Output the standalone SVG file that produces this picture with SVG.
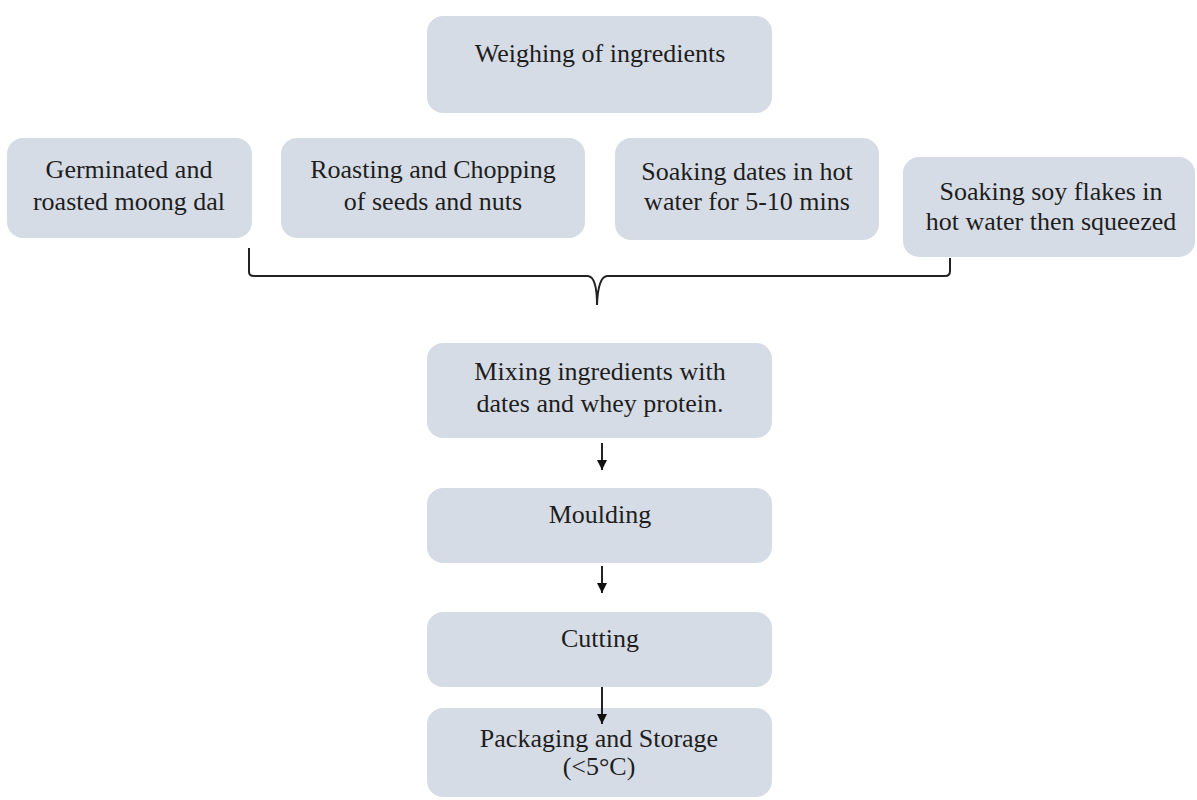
<svg xmlns="http://www.w3.org/2000/svg" width="1197" height="800" viewBox="0 0 1197 800">
<style>
.box{fill:#d6dce5;}
.t{font-family:"Liberation Serif","Times New Roman",serif;font-size:26px;fill:#1e1e1e;text-anchor:middle;}
.c{fill:none;stroke:#222;stroke-width:2;}
</style>
<defs>
<marker id="ah" markerUnits="userSpaceOnUse" markerWidth="12" markerHeight="12" refX="10" refY="5" orient="auto">
<path d="M0,0 L10,5 L0,10 Z" fill="#111"/>
</marker>
</defs>
<rect width="1197" height="800" fill="#fff"/>
<g id="weighing"><rect class="box" x="427" y="16" width="345" height="97" rx="16"/><text class="t" x="600" y="62">Weighing of ingredients</text></g>
<g id="germinated"><rect class="box" x="7" y="138" width="245" height="100" rx="16"/><text class="t" x="129" y="178">Germinated and</text><text class="t" x="129" y="210">roasted moong dal</text></g>
<g id="roasting"><rect class="box" x="281" y="138" width="304" height="100" rx="16"/><text class="t" x="433" y="178">Roasting and Chopping</text><text class="t" x="433" y="210">of seeds and nuts</text></g>
<g id="soaking-dates"><rect class="box" x="615" y="138" width="264" height="102" rx="16"/><text class="t" x="747" y="180">Soaking dates in hot</text><text class="t" x="747" y="210">water for 5-10 mins</text></g>
<g id="soaking-soy"><rect class="box" x="903" y="157" width="292" height="100" rx="16"/><text class="t" x="1051" y="200">Soaking soy flakes in</text><text class="t" x="1051" y="230">hot water then squeezed</text></g>
<g id="mixing"><rect class="box" x="427" y="343" width="345" height="95" rx="16"/><text class="t" x="600" y="380">Mixing ingredients with</text><text class="t" x="600" y="412">dates and whey protein.</text></g>
<g id="moulding"><rect class="box" x="427" y="488" width="345" height="75" rx="16"/><text class="t" x="600" y="523">Moulding</text></g>
<g id="cutting"><rect class="box" x="427" y="612" width="345" height="75" rx="16"/><text class="t" x="600" y="647">Cutting</text></g>
<g id="packaging"><rect class="box" x="427" y="708" width="345" height="89" rx="16"/><text class="t" x="599" y="747">Packaging and Storage</text><text class="t" x="599" y="775">(&lt;5°C)</text></g>
<g id="connectors">
<path class="c" d="M249,248 L249,272 Q249,276 254,276 L588,276 Q597,277 597,305 Q598,277 607,276 L945,276 Q950,276 950,271 L950,258"/>
<path class="c" d="M602,443 L602,470" marker-end="url(#ah)"/>
<path class="c" d="M602,566 L602,593" marker-end="url(#ah)"/>
<path class="c" d="M602,687 L602,724" marker-end="url(#ah)"/>
</g>
</svg>
